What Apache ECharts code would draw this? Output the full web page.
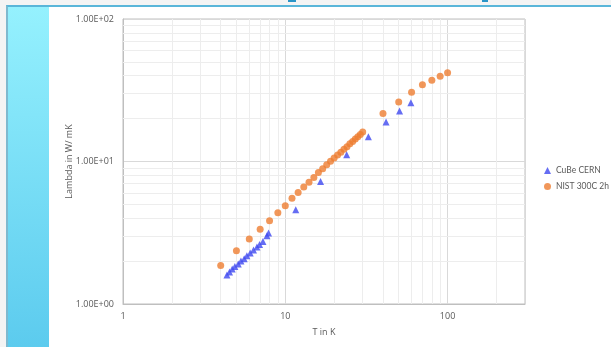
<!DOCTYPE html>
<html><head><meta charset="utf-8">
<script src="https://cdn.jsdelivr.net/npm/echarts@6/dist/echarts.min.js"></script>
<style>
html,body{margin:0;padding:0;width:611px;height:347px;overflow:hidden;background:#f4f4f4;}
#card{position:absolute;left:6px;top:5px;width:605px;height:342px;background:#fff;border-top:2px solid #5ab6d9;border-left:2px solid #7fb9cf;box-sizing:border-box;}
#side{position:absolute;left:8px;top:7px;width:41px;height:340px;background:linear-gradient(#95f1fe,#5ccbee);}
.frag{position:absolute;top:0;height:2px;background:#2a95c8;}
#chart{position:absolute;left:0;top:0;width:611px;height:347px;}
</style></head><body>
<div id="card"></div><div id="side"></div>
<div class="frag" style="left:288px;width:8px"></div>
<div class="frag" style="left:482px;width:6px"></div>
<div id="chart"></div>
<script>
// Data
const cubeT = [4.37,4.53,4.71,4.89,5.13,5.33,5.58,5.80,6.08,6.37,6.69,6.94,7.28,7.71,7.89,11.6,16.5,23.9,32.5,41.8,50.6,59.4];
const cubeL = [1.60,1.68,1.76,1.83,1.91,2.00,2.08,2.18,2.28,2.39,2.51,2.62,2.75,3.01,3.15,4.59,7.23,11.15,14.9,18.9,22.6,25.8];
const nistT = [4,5,6,7,8,9,10,11,12,13,14,15,16,17,18,19,20,21,22,23,24,25,26,27,28,29,30,40,50,60,70,80,90,100];
const nistL = [1.86,2.36,2.86,3.34,3.84,4.37,4.90,5.52,6.05,6.63,7.15,7.71,8.37,8.89,9.48,10.05,10.6,11.1,11.6,12.2,12.7,13.3,13.8,14.4,14.9,15.5,16.1,21.7,26.2,30.6,34.5,37.2,39.7,41.9];
const xTickLabels = {1:'1',10:'10',100:'100'};
const yTickLabels = {1:'1.00E+00',10:'1.00E+01',100:'1.00E+02'};
const xMinor = [2,3,4,5,6,7,8,9,20,30,40,50,60,70,80,90,200];
const yMinor = [2,3,4,5,6,7,8,9,20,30,40,50,60,70,80,90];
const seriesNames = ['CuBe CERN','NIST 300C 2h'];

const font = '"Open Sans", "Liberation Sans", sans-serif';
const txt = '#595959';
const chart = echarts.init(document.getElementById('chart'));
function pairs(a,b){return a.map((v,i)=>[v,b[i]]);}
function isDecade(v){const l=Math.log10(v);return Math.abs(l-Math.round(l))<1e-6;}
chart.setOption({
  animation:false,
  grid:{left:123,right:86,top:19,bottom:43,show:true,borderColor:'#bfbfbf',borderWidth:1,backgroundColor:'transparent'},
  legend:{data:seriesNames,orient:'vertical',left:544,top:166,padding:0,itemWidth:7,itemHeight:7,itemGap:7,
    textStyle:{fontFamily:'Lato, sans-serif',fontSize:8.5,color:txt}},
  xAxis:{type:'log',logBase:10,min:1,max:300,name:'T in K',nameLocation:'middle',nameGap:24,
    nameTextStyle:{fontFamily:font,fontSize:9,color:txt},
    axisLine:{show:true,lineStyle:{color:'#bfbfbf'}},axisTick:{show:false},
    axisLabel:{fontFamily:font,fontSize:9,color:txt,margin:8,formatter:v=>isDecade(v)?(xTickLabels[Math.round(v)]||''):'' },
    splitLine:{show:true,lineStyle:{color:'#d9d9d9',width:1}}},
  yAxis:{type:'log',logBase:10,min:1,max:100,name:'Lambda in W/ mK',nameLocation:'middle',nameGap:49,nameMoveOverlap:false,
    nameTextStyle:{fontFamily:font,fontSize:9,color:txt},
    axisLine:{show:true,lineStyle:{color:'#bfbfbf'}},axisTick:{show:false},
    axisLabel:{fontFamily:font,fontSize:9,color:txt,margin:9,formatter:v=>yTickLabels[Math.round(v)]||''},
    splitLine:{show:true,lineStyle:{color:'#d9d9d9',width:1}}},
  series:[
    {name:'grid-minor',type:'scatter',data:[],z:0,silent:true,
      markLine:{silent:true,z:1,symbol:'none',label:{show:false},animation:false,
        lineStyle:{color:'#ededed',width:1,type:'solid'},
        data:[...xMinor.map(v=>({xAxis:v})),...yMinor.map(v=>({yAxis:v}))]}},
    {name:seriesNames[0],type:'scatter',symbol:'triangle',symbolSize:7,itemStyle:{color:'#3f48f0'},z:3,data:pairs(cubeT,cubeL)},
    {name:seriesNames[1],type:'scatter',symbol:'circle',symbolSize:7,itemStyle:{color:'#ed7d31'},z:2,data:pairs(nistT,nistL)}
  ]
});
</script></body></html>
